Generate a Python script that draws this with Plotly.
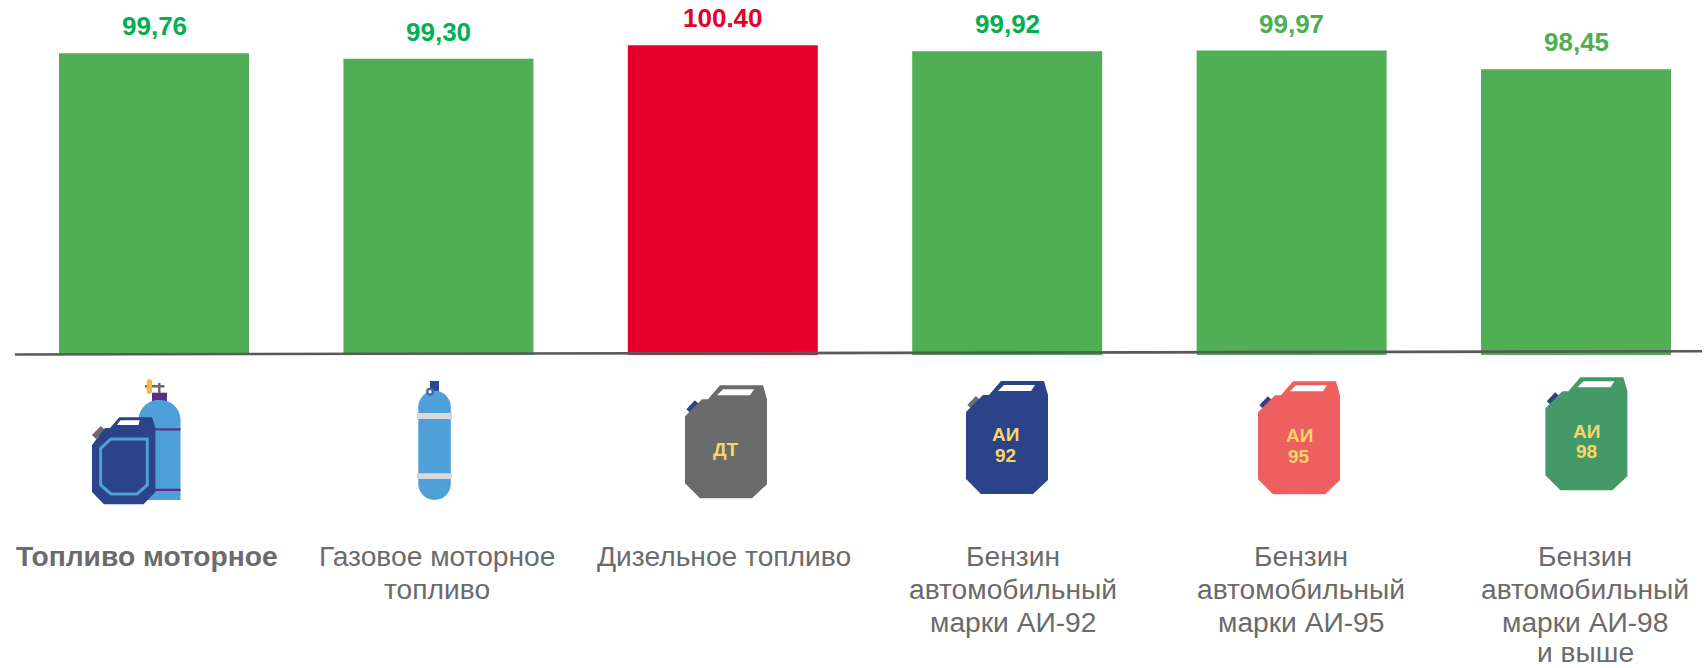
import plotly.graph_objects as go

W, H = 1706, 668

categories = ["Топливо моторное", "Газовое моторное топливо", "Дизельное топливо",
              "Бензин автомобильный марки АИ-92", "Бензин автомобильный марки АИ-95",
              "Бензин автомобильный марки АИ-98 и выше"]
values = [99.76, 99.30, 100.40, 99.92, 99.97, 98.45]
value_labels = ["99,76", "99,30", "100.40", "99,92", "99,97", "98,45"]
bar_colors = ["#50AF54", "#50AF54", "#E4002B", "#50AF54", "#50AF54", "#50AF54"]
label_colors = ["#00B050", "#00B050", "#E4002B", "#00B050", "#4EAE52", "#4EAE52"]
axis_lines = [["<b>Топливо моторное</b>"], ["Газовое моторное", "топливо"], ["Дизельное топливо"],
              ["Бензин", "автомобильный", "марки АИ-92"], ["Бензин", "автомобильный", "марки АИ-95"],
              ["Бензин", "автомобильный", "марки АИ-98", "и выше"]]
axis_label_px = [147, 437, 724, 1013, 1301, 1585]
axis_line_y = [555.5, 588.8, 622.1, 651.5]

FONT = "Liberation Sans, Arial, sans-serif"
GREY, BLUE, RED, GREEN = "#6B6B6B", "#2A4389", "#EE6060", "#439A66"
SKY, PURPLE, YELLOW, BAND = "#4F9FD9", "#5E2D86", "#F9B934", "#D9D9D9"
TXT = "#F9D568"

fig = go.Figure(go.Bar(x=categories, y=values, marker_color=bar_colors, marker_line_width=0,
                       width=0.668, hovertemplate="%{x}: %{y}<extra></extra>"))

shapes = []


def path(pts, close=True):
    s = "M" + " L".join(f"{x / W:.5f},{1 - y / H:.5f}" for x, y in pts)
    return s + (" Z" if close else "")


def poly(pts, fill=None, line=None, lw=0, close=True):
    shapes.append(dict(type="path", xref="paper", yref="paper", path=path(pts, close),
                       fillcolor=fill if fill else "rgba(0,0,0,0)",
                       line=dict(color=line if line else "rgba(0,0,0,0)", width=lw), layer="above"))


def rect(x0, y0, x1, y1, fill):
    poly([(x0, y0), (x1, y0), (x1, y1), (x0, y1)], fill=fill)


def can(ox, oy, body, cap):
    poly([(ox + 3.5, oy + 26), (ox + 12, oy + 17)], line=cap, lw=6, close=False)
    poly([(ox + a, oy + b) for a, b in [(0, 31), (0, 98), (15, 113), (67, 113), (82, 99), (82, 14),
                                        (78, 0), (35, 0), (23, 14), (17, 14)]], fill=body)
    poly([(ox + a, oy + b) for a, b in [(32, 10), (38, 4), (69, 4), (65, 10)]], fill="white")


def pill(x0, x1, y0, y1, r, fill, flat_bottom=False):
    k = 0.55 * r
    xa0, xa1 = x0 / W, x1 / W
    py = lambda v: 1 - v / H
    d = f"M{xa0},{py(y0 + r)} C{xa0},{py(y0 + r - k)} {(x0 + r - k) / W},{py(y0)} {(x0 + r) / W},{py(y0)} "
    d += f"L{(x1 - r) / W},{py(y0)} C{(x1 - r + k) / W},{py(y0)} {xa1},{py(y0 + r - k)} {xa1},{py(y0 + r)} "
    if flat_bottom:
        d += f"L{xa1},{py(y1)} L{xa0},{py(y1)} Z"
    else:
        d += (f"L{xa1},{py(y1 - r)} C{xa1},{py(y1 - r + k)} {(x1 - r + k) / W},{py(y1)} {(x1 - r) / W},{py(y1)} "
              f"L{(x0 + r) / W},{py(y1)} C{(x0 + r - k) / W},{py(y1)} {xa0},{py(y1 - r + k)} {xa0},{py(y1 - r)} Z")
    shapes.append(dict(type="path", xref="paper", yref="paper", path=d, fillcolor=fill,
                       line=dict(width=0), layer="above"))


def circle(cx, cy, r, fill):
    shapes.append(dict(type="circle", xref="paper", yref="paper", x0=(cx - r) / W, x1=(cx + r) / W,
                       y0=1 - (cy + r) / H, y1=1 - (cy - r) / H, fillcolor=fill, line=dict(width=0),
                       layer="above"))


# baseline
poly([(15, 354.5), (1702, 351.3)], line="#595959", lw=2.6, close=False)

# icon 1: cylinder with canister
rect(152, 392.7, 167, 402, PURPLE)
rect(158, 383, 160.5, 393, GREY)
rect(145, 385, 164.5, 387.5, GREY)
pill(146.8, 152, 379, 394, 2.5, YELLOW)
pill(138.5, 180.5, 400, 500, 20, SKY, flat_bottom=True)
rect(155, 428.3, 180.5, 430.5, PURPLE)
rect(155, 488.7, 180.5, 491, PURPLE)
poly([(94, 437), (103, 428)], line=GREY, lw=6, close=False)
poly([(92, 445), (92, 492), (104, 504.3), (143.5, 504.3), (155.4, 492), (155.4, 428), (152, 417.3),
      (119.4, 417.3), (110, 428), (105, 428)], fill=BLUE)
poly([(116.7, 425), (120.5, 420.3), (139.7, 420.3), (138.5, 425)], fill="white")
poly([(100.6, 448.3), (111, 439), (147.3, 439), (147.3, 485), (137, 494), (111, 494), (100.6, 485)],
     line=SKY, lw=3)

# icon 2: cylinder
rect(430, 381, 439, 392, "#234A93")
pill(418.3, 450.8, 390.7, 500, 16.2, SKY)
rect(417, 413, 452, 419, BAND)
rect(417, 473.3, 452, 479, BAND)
circle(430, 391.7, 4, "#3F63AD")
circle(430, 391.7, 1.7, "white")

# icons 3-6: canisters
can(685, 385.3, GREY, BLUE)
can(966, 381, BLUE, GREY)
can(1258, 381.3, RED, BLUE)
can(1545.4, 377.3, GREEN, BLUE)

ann = []
for i, (v, t, c) in enumerate(zip(values, value_labels, label_colors)):
    ann.append(dict(x=i, y=v, xref="x", yref="y", text=f"<b>{t}</b>", showarrow=False, yanchor="bottom",
                    yshift=10, font=dict(family=FONT, size=26, color=c)))
for lines, px in zip(axis_lines, axis_label_px):
    for k, t in enumerate(lines):
        ann.append(dict(x=px / W, y=1 - axis_line_y[k] / H, xref="paper", yref="paper", text=t,
                        showarrow=False, xanchor="center", yanchor="middle",
                        font=dict(family=FONT, size=28.2, color=GREY)))
for t, cx, cy in [("ДТ", 726, 449), ("АИ", 1006, 434.7), ("92", 1006, 455.7), ("АИ", 1299, 435),
                  ("95", 1299, 456), ("АИ", 1586, 431), ("98", 1586, 451.7)]:
    ann.append(dict(x=cx / W, y=1 - cy / H, xref="paper", yref="paper", text=f"<b>{t}</b>", showarrow=False,
                    xanchor="center", yanchor="middle", font=dict(family=FONT, size=19, color=TXT)))

fig.update_layout(width=W, height=H, margin=dict(l=0, r=0, t=0, b=0), paper_bgcolor="white",
                  plot_bgcolor="white", showlegend=False, shapes=shapes, annotations=ann,
                  xaxis=dict(type="category", range=[-0.5415, 5.457], visible=False),
                  yaxis=dict(domain=[1 - 355 / H, 1], range=[75.35, 104.06], visible=False))

fig.write_html("out.html", config={"displayModeBar": False},
               post_script="document.body.style.margin='0';document.documentElement.style.overflow='hidden';")
